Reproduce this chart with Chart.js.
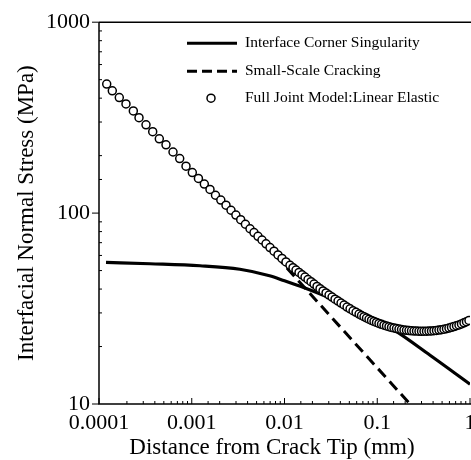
<!DOCTYPE html>
<html>
<head>
<meta charset="utf-8">
<script src="https://cdn.jsdelivr.net/npm/chart.js@4.4.1/dist/chart.umd.min.js"></script>
<style>
  html, body { margin: 0; padding: 0; overflow: hidden; background: #fff; }
  #wrap { width: 500px; height: 460px; }
</style>
</head>
<body>
<div id="wrap"><canvas id="chart" width="500" height="460"></canvas></div>
<script>
// tick labels (decades only)
const xTickLabels = ['0.0001', '0.001', '0.01', '0.1', '1'];
const yTickLabels = ['10', '100', '1000'];

const seriesNames = ['Interface Corner Singularity', 'Small-Scale Cracking', 'Full Joint Model:Linear Elastic'];

// Interface corner singularity (solid)
const cornerX = [0.000119, 0.000355, 0.00123, 0.0033, 0.0069, 0.0100, 0.0158, 0.0309, 0.0652, 0.148, 0.371, 1.0];
const cornerY = [55.2, 54.3, 53.0, 50.8, 47.0, 44.2, 40.9, 35.9, 30.3, 24.6, 18.0, 12.7];

// Small-scale cracking (dashed)
const crackX = [0.008, 0.2254];
const crackY = [60, 10];

// Full joint model, linear elastic (circles)
const jointX = [
  1.211e-4, 1.391e-4, 1.655e-4, 1.954e-4, 2.344e-4, 2.700e-4, 3.212e-4, 3.793e-4, 4.469e-4, 5.277e-4, 6.28e-4, 7.415e-4, 8.67e-4,
  1.014e-3, 1.18e-3, 1.366e-3, 1.573e-3, 1.803e-3, 2.057e-3, 2.341e-3, 2.650e-3, 2.992e-3, 3.371e-3, 3.789e-3, 4.248e-3,
  4.69e-3, 5.18e-3, 5.721e-3, 6.319e-3, 6.977e-3, 7.706e-3, 8.511e-3, 9.40e-3, 1.038e-2, 1.146e-2,
  1.235e-2, 1.331e-2, 1.434e-2, 1.545e-2, 1.664e-2, 1.793e-2, 1.932e-2, 2.082e-2, 2.243e-2, 2.416e-2, 2.603e-2, 2.805e-2,
  3.022e-2, 3.256e-2, 3.508e-2, 3.779e-2, 4.072e-2, 4.387e-2, 4.727e-2, 5.093e-2, 5.487e-2, 5.912e-2, 6.369e-2,
  0.06766, 0.07199, 0.0766, 0.0815, 0.08672, 0.09227, 0.09817, 0.10446, 0.11114, 0.11826, 0.12583, 0.13388, 0.14245,
  0.15157, 0.16127, 0.17159, 0.18257, 0.19426, 0.20669, 0.21992, 0.23399, 0.24897, 0.2649, 0.28186, 0.2999, 0.31909,
  0.33951, 0.36124, 0.38436, 0.40896, 0.43513, 0.46298, 0.49261, 0.52414, 0.55768, 0.59337, 0.63135, 0.67176, 0.71475,
  0.76049, 0.80916, 0.86095, 0.91605, 0.97468
];
const jointY = [
  474, 437, 403, 373, 343, 316, 290, 267, 245, 228, 209, 193, 176,
  163, 152, 142, 133, 124, 117, 110, 103.5, 97.7, 92.4, 87.4, 82.8,
  79.1, 75.6, 72.3, 69.0, 66.0, 63.2, 60.4, 57.9, 55.5, 53.3,
  51.8, 50.3, 48.9, 47.5, 46.2, 44.9, 43.7, 42.5, 41.3, 40.2, 39.1, 38.2,
  37.2, 36.3, 35.4, 34.6, 33.8, 33.0, 32.2, 31.5, 30.8, 30.2, 29.6,
  29.08, 28.67, 28.22, 27.79, 27.39, 27.06, 26.74, 26.42, 26.14, 25.89, 25.64, 25.40, 25.18,
  25.03, 24.85, 24.68, 24.56, 24.44, 24.32, 24.24, 24.18, 24.12, 24.09, 24.05, 24.04, 24.05,
  24.06, 24.09, 24.13, 24.21, 24.29, 24.38, 24.50, 24.65, 24.82, 25.00, 25.21, 25.46, 25.70,
  25.95, 26.26, 26.61, 27.00, 27.39
];

const serif = "'Liberation Serif', 'Times New Roman', serif";

function toPoints(xs, ys) {
  return xs.map((v, i) => ({ x: v, y: ys[i] }));
}

function isDecade(v) {
  const l = Math.log10(v);
  return Math.abs(l - Math.round(l)) < 1e-6;
}

function decadeLabel(labels, v) {
  if (!isDecade(v)) return '';
  return labels.find(s => Math.abs(parseFloat(s) - v) < v * 1e-6) || '';
}

// axes frame, tick marks, legend and axis titles
const decorations = {
  id: 'decorations',
  afterDatasetsDraw(chart) {
    const { ctx, chartArea: a, scales } = chart;
    const xs = scales.x, ys = scales.y;
    ctx.save();
    ctx.strokeStyle = '#000';
    ctx.lineWidth = 1.5;
    ctx.beginPath();
    ctx.moveTo(a.left, a.top);
    ctx.lineTo(chart.width, a.top);
    ctx.moveTo(a.left, a.top);
    ctx.lineTo(a.left, a.bottom);
    ctx.lineTo(chart.width, a.bottom);
    ctx.stroke();

    ctx.lineWidth = 1;
    ctx.beginPath();
    xs.ticks.forEach(t => {
      const p = xs.getPixelForValue(t.value);
      ctx.moveTo(p, a.bottom);
      ctx.lineTo(p, a.bottom - (isDecade(t.value) ? 6 : 3));
    });
    ys.ticks.forEach(t => {
      const p = ys.getPixelForValue(t.value);
      if (isDecade(t.value)) {
        ctx.moveTo(a.left - 7, p);
        ctx.lineTo(a.left, p);
      } else {
        ctx.moveTo(a.left, p);
        ctx.lineTo(a.left + 3, p);
      }
    });
    ctx.stroke();

    // legend
    const ds = chart.data.datasets;
    const lx = a.left + 88, tx = a.left + 146;
    const rows = [a.top + 21, a.top + 49, a.top + 76];
    ctx.lineWidth = 3;
    ctx.beginPath();
    ctx.moveTo(lx, rows[0]); ctx.lineTo(lx + 50, rows[0]);
    ctx.stroke();
    ctx.setLineDash([10, 5]);
    ctx.beginPath();
    ctx.moveTo(lx, rows[1]); ctx.lineTo(lx + 50, rows[1]);
    ctx.stroke();
    ctx.setLineDash([]);
    ctx.lineWidth = 1.5;
    ctx.fillStyle = '#fff';
    ctx.beginPath();
    ctx.arc(lx + 24, rows[2], 4, 0, Math.PI * 2);
    ctx.fill();
    ctx.stroke();

    ctx.fillStyle = '#000';
    ctx.font = '15.5px ' + serif;
    ctx.textAlign = 'left';
    ctx.textBaseline = 'middle';
    ds.forEach((d, i) => ctx.fillText(d.label, tx, rows[i]));

    // axis titles
    ctx.font = '23px ' + serif;
    ctx.textAlign = 'center';
    ctx.textBaseline = 'alphabetic';
    ctx.fillText('Distance from Crack Tip (mm)', 272, 454);
    ctx.translate(33, (a.top + a.bottom) / 2);
    ctx.rotate(-Math.PI / 2);
    ctx.fillText('Interfacial Normal Stress (MPa)', 0, 0);
    ctx.restore();
  }
};

new Chart(document.getElementById('chart'), {
  type: 'scatter',
  data: {
    datasets: [
      {
        label: seriesNames[0],
        data: toPoints(cornerX, cornerY),
        showLine: true,
        borderColor: '#000',
        borderWidth: 3.2,
        pointRadius: 0,
        cubicInterpolationMode: 'monotone',
        order: 2
      },
      {
        label: seriesNames[1],
        data: toPoints(crackX, crackY),
        showLine: true,
        borderColor: '#000',
        borderWidth: 3,
        borderDash: [11, 6],
        pointRadius: 0,
        order: 3
      },
      {
        label: seriesNames[2],
        data: toPoints(jointX, jointY),
        showLine: false,
        pointRadius: 4,
        pointBorderWidth: 1.5,
        pointBorderColor: '#000',
        pointBackgroundColor: '#fff',
        order: 1
      }
    ]
  },
  options: {
    responsive: false,
    animation: false,
    devicePixelRatio: 1,
    layout: { padding: { top: 20, left: 0, right: 30, bottom: 0 } },
    plugins: { legend: { display: false }, tooltip: { enabled: false } },
    scales: {
      x: {
        type: 'logarithmic',
        min: 0.0001,
        max: 1,
        grid: { display: false, drawTicks: false },
        border: { display: false },
        afterFit: s => { s.height = 56; },
        ticks: {
          autoSkip: false,
          maxRotation: 0,
          padding: 6,
          color: '#000',
          font: { family: serif, size: 22 },
          callback: v => decadeLabel(xTickLabels, v)
        }
      },
      y: {
        type: 'logarithmic',
        min: 10,
        max: 1000,
        grid: { display: false, drawTicks: false },
        border: { display: false },
        afterFit: s => { s.width = 99; },
        ticks: {
          autoSkip: false,
          padding: 9,
          color: '#000',
          font: { family: serif, size: 22 },
          callback: v => decadeLabel(yTickLabels, v)
        }
      }
    }
  },
  plugins: [decorations]
});
</script>
</body>
</html>
